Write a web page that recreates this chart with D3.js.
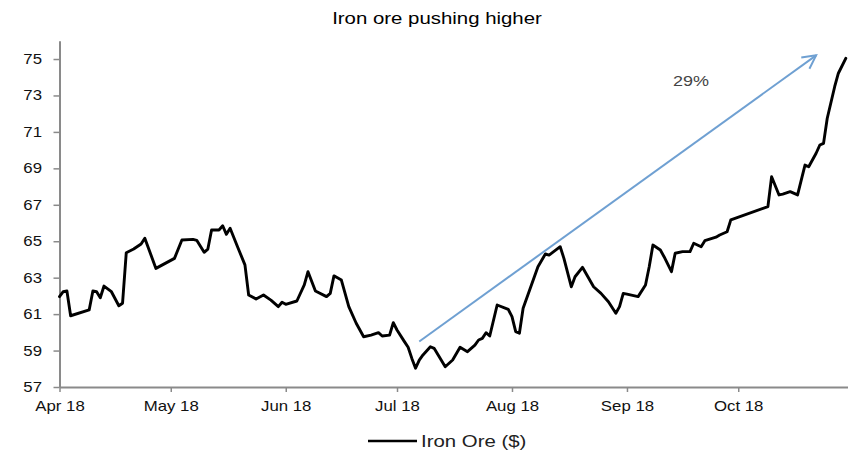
<!DOCTYPE html>
<html>
<head>
<meta charset="utf-8">
<script src="https://cdn.jsdelivr.net/npm/d3@7/dist/d3.min.js"></script>
<style>
  html, body { margin: 0; padding: 0; background: #fff; }
  svg { display: block; font-family: "Liberation Sans", Arial, sans-serif; }
</style>
</head>
<body>
<svg id="chart" width="848" height="453"></svg>
<script>
// ---- data ----
const title = "Iron ore pushing higher";
const seriesName = "Iron Ore ($)";
const dates = [
  "2018-04-01","2018-04-02","2018-04-03","2018-04-04","2018-04-09","2018-04-10","2018-04-11","2018-04-12",
  "2018-04-13","2018-04-15","2018-04-17","2018-04-18","2018-04-19","2018-04-21","2018-04-23","2018-04-24",
  "2018-04-27","2018-05-02","2018-05-04","2018-05-07","2018-05-08","2018-05-10","2018-05-11","2018-05-12",
  "2018-05-14","2018-05-15","2018-05-16","2018-05-17","2018-05-18","2018-05-19","2018-05-21","2018-05-22",
  "2018-05-24","2018-05-26","2018-05-28","2018-05-30","2018-05-31","2018-06-01","2018-06-04","2018-06-06",
  "2018-06-07","2018-06-09","2018-06-12","2018-06-13","2018-06-14","2018-06-16","2018-06-18","2018-06-20",
  "2018-06-22","2018-06-24","2018-06-26","2018-06-27","2018-06-29","2018-06-30","2018-07-01","2018-07-03",
  "2018-07-04","2018-07-05","2018-07-06","2018-07-07","2018-07-08","2018-07-10","2018-07-11","2018-07-14",
  "2018-07-16","2018-07-18","2018-07-20","2018-07-22","2018-07-23","2018-07-24","2018-07-25","2018-07-26",
  "2018-07-28","2018-07-31","2018-08-01","2018-08-02","2018-08-03","2018-08-04","2018-08-08","2018-08-10",
  "2018-08-11","2018-08-14","2018-08-15","2018-08-17","2018-08-18","2018-08-20","2018-08-23","2018-08-25",
  "2018-08-27","2018-08-29","2018-08-30","2018-08-31","2018-09-01","2018-09-04","2018-09-06","2018-09-07",
  "2018-09-08","2018-09-10","2018-09-11","2018-09-13","2018-09-14","2018-09-16","2018-09-18","2018-09-19",
  "2018-09-21","2018-09-22","2018-09-25","2018-09-26","2018-09-28","2018-09-29","2018-10-09","2018-10-10",
  "2018-10-12","2018-10-13","2018-10-15","2018-10-17","2018-10-19","2018-10-20","2018-10-22","2018-10-23",
  "2018-10-24","2018-10-25","2018-10-27","2018-10-28","2018-10-30"
];
const values = [
  61.96,62.23,62.27,60.91,61.23,62.27,62.23,61.90,
  62.54,62.23,61.46,61.60,64.37,64.57,64.85,65.16,
  63.51,64.06,65.07,65.10,65.05,64.39,64.57,65.62,
  65.62,65.85,65.38,65.71,65.20,64.70,63.70,62.05,
  61.83,62.05,61.77,61.41,61.65,61.54,61.72,62.60,
  63.33,62.27,61.96,62.14,63.10,62.87,61.41,60.50,
  59.76,59.85,59.98,59.80,59.85,60.53,60.13,59.49,
  59.18,58.57,58.03,58.48,58.76,59.21,59.12,58.11,
  58.48,59.18,58.94,59.30,59.58,59.67,59.98,59.80,
  61.50,61.26,60.86,60.04,59.95,61.32,63.60,64.30,
  64.24,64.70,64.06,62.50,63.05,63.57,62.50,62.14,
  61.68,61.05,61.41,62.14,62.10,61.96,62.60,63.60,
  64.79,64.52,64.15,63.33,64.34,64.43,64.43,64.89,
  64.70,65.03,65.22,65.34,65.52,66.17,66.90,68.54,
  67.54,67.59,67.72,67.54,69.18,69.09,69.83,70.28,
  70.37,71.75,73.48,74.22,75.04
];
const yTicks = [57,59,61,63,65,67,69,71,73,75];
const xTickDates = ["2018-04-01","2018-05-01","2018-06-01","2018-07-01","2018-08-01","2018-09-01","2018-10-01"];
const xTickLabels = ["Apr 18","May 18","Jun 18","Jul 18","Aug 18","Sep 18","Oct 18"];
const arrowFrom = { date: "2018-07-07", value: 59.5 };
const arrowTo = { date: "2018-10-22", value: 75.2 };
const arrowLabel = "29%";

// ---- chart ----
const parse = d3.timeParse("%Y-%m-%d");
const data = dates.map((d, i) => ({ date: parse(d), value: values[i] }));
const svg = d3.select("#chart");
const SX = 1.2; // horizontal stretch of reference text

const x = d3.scaleTime()
  .domain([parse("2018-04-01"), parse("2018-10-31")])
  .range([59.5, 849.5]);
const y = d3.scaleLinear().domain([57, 76]).range([387, 40.8]);

// title
svg.append("text")
  .attr("transform", `translate(437,23.5) scale(${SX},1)`)
  .attr("text-anchor", "middle")
  .style("font-size", "17px")
  .attr("fill", "#000")
  .text(title);

// y axis
const yAxis = svg.append("g")
  .attr("transform", "translate(59.5,0)")
  .call(d3.axisLeft(y).tickValues(yTicks).tickSize(6).tickSizeOuter(0).tickFormat(d3.format("d")));
yAxis.select(".domain").attr("stroke", "#8a8a8a").attr("stroke-width", 2);
yAxis.selectAll(".tick line").attr("stroke", "#8a8a8a").attr("stroke-width", 1.5);
yAxis.selectAll(".tick text")
  .attr("x", -17.5 / SX)
  .attr("transform", `scale(${SX},1)`)
  .attr("fill", "#111")
  .style("font-size", "14px")
  .style("font-family", "'Liberation Sans', Arial, sans-serif");

// x axis
const xAxis = svg.append("g")
  .attr("transform", "translate(0,387)")
  .call(d3.axisBottom(x).tickValues(xTickDates.map(parse))
    .tickFormat((d, i) => xTickLabels[i]).tickSize(5).tickSizeOuter(0));
xAxis.select(".domain").attr("stroke", "#8a8a8a").attr("stroke-width", 2);
xAxis.selectAll(".tick line").attr("stroke", "#8a8a8a").attr("stroke-width", 1.5);
xAxis.selectAll(".tick text")
  .attr("y", 24.5).attr("dy", 0)
  .attr("transform", `scale(${SX},1)`)
  .attr("fill", "#111")
  .style("font-size", "14px")
  .style("font-family", "'Liberation Sans', Arial, sans-serif");

// line
const line = d3.line().x(d => x(d.date)).y(d => y(d.value));
svg.append("path")
  .datum(data)
  .attr("fill", "none")
  .attr("stroke", "#000")
  .attr("stroke-width", 2.9)
  .attr("stroke-linejoin", "round")
  .attr("stroke-linecap", "round")
  .attr("d", line);

// arrow
const ax0 = x(parse(arrowFrom.date)), ay0 = y(arrowFrom.value);
const ax1 = x(parse(arrowTo.date)), ay1 = y(arrowTo.value);
const ang = Math.atan2(ay1 - ay0, ax1 - ax0);
const armLen = 15, armAng = Math.PI / 6.5;
const arrowColor = "#6fa0d2";
svg.append("line")
  .attr("x1", ax0).attr("y1", ay0).attr("x2", ax1).attr("y2", ay1)
  .attr("stroke", arrowColor).attr("stroke-width", 2);
const p1 = [ax1 - armLen * Math.cos(ang - armAng), ay1 - armLen * Math.sin(ang - armAng)];
const p2 = [ax1 - armLen * Math.cos(ang + armAng), ay1 - armLen * Math.sin(ang + armAng)];
svg.append("path")
  .attr("d", `M${p1[0]},${p1[1]} L${ax1},${ay1} L${p2[0]},${p2[1]}`)
  .attr("fill", "none").attr("stroke", arrowColor).attr("stroke-width", 2)
  .attr("stroke-linejoin", "miter");

svg.append("text")
  .attr("transform", `translate(691,86) scale(${SX},1)`)
  .attr("text-anchor", "middle")
  .style("font-size", "15px")
  .attr("fill", "#444")
  .text(arrowLabel);

// legend
const lg = svg.append("g");
lg.append("line").attr("x1", 368).attr("x2", 417).attr("y1", 441).attr("y2", 441)
  .attr("stroke", "#000").attr("stroke-width", 2.6);
lg.append("text")
  .attr("transform", `translate(421,446.5) scale(${SX},1)`)
  .style("font-size", "17px")
  .attr("fill", "#222")
  .text(seriesName);
</script>
</body>
</html>
